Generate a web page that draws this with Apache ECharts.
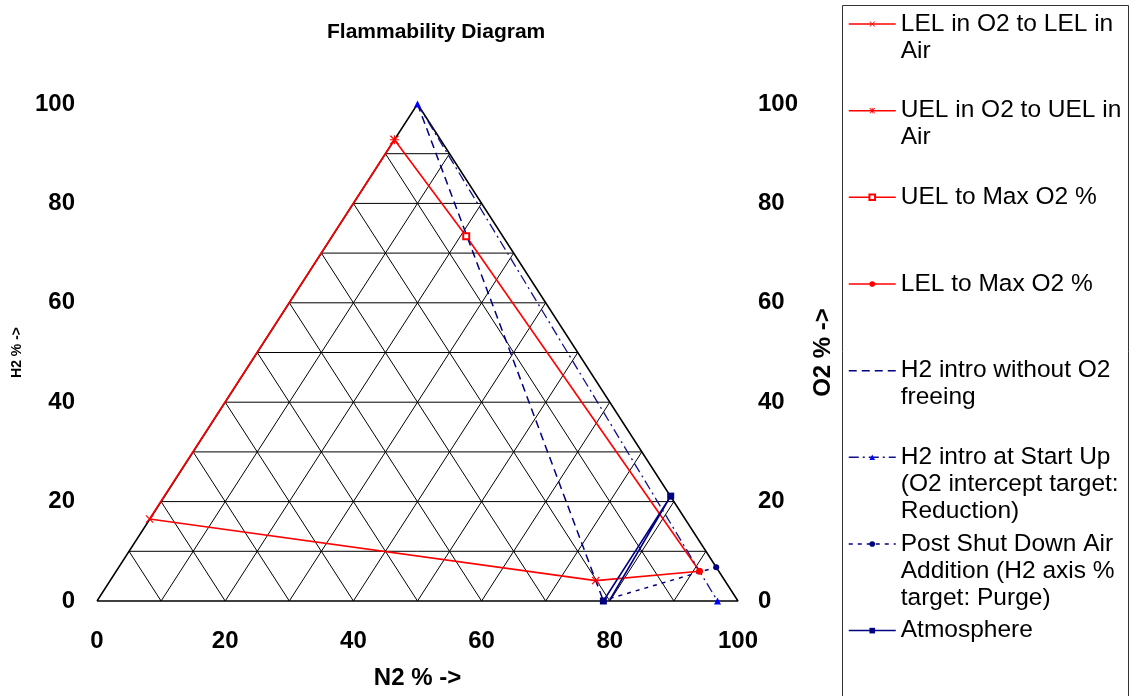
<!DOCTYPE html>
<html>
<head>
<meta charset="utf-8">
<script src="https://cdn.jsdelivr.net/npm/echarts@6/dist/echarts.min.js"></script>
<style>
html,body{margin:0;padding:0;background:#fff;}
#chart{width:1134px;height:696px;}
</style>
</head>
<body>
<div id="chart"></div>
<script>
// ---- data (Cartesian positions on the ternary triangle: x = N2 axis, y = H2 axis) ----
const axisTicks = [0, 20, 40, 60, 80, 100];
const triangleGridSteps = [10, 20, 30, 40, 50, 60, 70, 80, 90];

const lelO2ToLelAir      = [[8.2, 16.5], [77.8, 4.1]];
const uelO2ToUelAir      = [[8.2, 16.5], [46.4, 92.8], [57.6, 73.4]];
const uelToMaxO2         = [[57.6, 73.4], [94.0, 6.0]];
const lelToMaxO2         = [[77.8, 4.1], [94.0, 6.0]];
const h2IntroNoO2Freeing = [[50, 100], [79.0, 0]];
const h2IntroStartUp     = [[50, 100], [96.8, 0]];
const postShutDownAir    = [[80.0, 0.5], [96.6, 6.8]];
const atmosphere         = [[79.0, 0], [89.5, 21.1], [80.0, 0.2]];

const seriesNames = [
  'LEL in O2 to LEL in Air',
  'UEL in O2 to UEL in Air',
  'UEL to Max O2 %',
  'LEL to Max O2 %',
  'H2 intro without O2 freeing',
  'H2 intro at Start Up (O2 intercept target: Reduction)',
  'Post Shut Down Air Addition (H2 axis % target: Purge)',
  'Atmosphere'
];
const legendLabels = [
  'LEL in O2 to LEL in\nAir',
  'UEL in O2 to UEL in\nAir',
  'UEL to Max O2 %',
  'LEL to Max O2 %',
  'H2 intro without O2\nfreeing',
  'H2 intro at Start Up\n(O2 intercept target:\nReduction)',
  'Post Shut Down Air\nAddition (H2 axis %\ntarget: Purge)',
  'Atmosphere'
];

// ---- chart ----
const FONT = "'Liberation Sans', Arial, Helvetica, sans-serif";
const RED = '#ff0000';
const NAVY = '#000080';
const BLUE = '#0000ff';

const X_PATH = 'path://M0,1 L1,0 L5,4 L9,0 L10,1 L6,5 L10,9 L9,10 L5,6 L1,10 L0,9 L4,5 Z';
const STAR_PATH = 'path://M0,1 L1,0 L5,4 L9,0 L10,1 L6,5 L10,9 L9,10 L5,6 L1,10 L0,9 L4,5 Z M4.4,0 L5.6,0 L5.6,10 L4.4,10 Z M0,4.4 L10,4.4 L10,5.6 L0,5.6 Z';

function gridLine(points, width) {
  return {
    type: 'line', data: points, symbol: 'none', silent: true, animation: false, clip: false,
    lineStyle: { color: '#000', width: width }, z: 1
  };
}
const gridSeries = [];
gridSeries.push(gridLine([[0, 0], [100, 0], [50, 100], [0, 0]], 1.5));
triangleGridSteps.forEach(function (k) {
  gridSeries.push(gridLine([[k / 2, k], [100 - k / 2, k]], 1));      // horizontal
  gridSeries.push(gridLine([[k, 0], [50 + k / 2, 100 - k]], 1));     // parallel to left edge
  gridSeries.push(gridLine([[k, 0], [k / 2, k]], 1));                // parallel to right edge
});

function onlyAt(indices, size) {
  return function (v, p) { return indices.indexOf(p.dataIndex) >= 0 ? size : 0; };
}
function dataSeries(name, data, color, lineType, width, symbol, symbolSize, markerColor) {
  return {
    name: name, type: 'line', data: data, clip: false, animation: false, z: 5,
    symbol: symbol, symbolSize: symbolSize, showSymbol: true,
    lineStyle: { color: color, width: width, type: lineType },
    itemStyle: { color: markerColor || color, borderWidth: 0 },
    emphasis: { disabled: true }
  };
}

const series = gridSeries.concat([
  dataSeries(seriesNames[0], lelO2ToLelAir, RED, 'solid', 1.6, X_PATH, 8),
  dataSeries(seriesNames[1], uelO2ToUelAir, RED, 'solid', 1.6, STAR_PATH, onlyAt([1], 9)),
  Object.assign(dataSeries(seriesNames[2], uelToMaxO2, RED, 'solid', 1.6, 'emptyRect', onlyAt([0], 6)),
    { itemStyle: { color: RED, borderColor: RED, borderWidth: 1.5 } }),
  dataSeries(seriesNames[3], lelToMaxO2, RED, 'solid', 1.6, 'circle', onlyAt([1], 7)),
  dataSeries(seriesNames[4], h2IntroNoO2Freeing, NAVY, [8, 5], 1.5, 'circle', 0),
  dataSeries(seriesNames[5], h2IntroStartUp, '#10108a', [10, 4, 2, 4], 1.3, 'triangle', 7, BLUE),
  dataSeries(seriesNames[6], postShutDownAir, NAVY, [4, 5], 1.5, 'circle', onlyAt([1], 6)),
  dataSeries(seriesNames[7], atmosphere, NAVY, 'solid', 1.6, 'rect', onlyAt([0, 1], 7))
]);

const legendData = seriesNames.map(function (n, i) {
  if (i === 4) return { name: n, itemStyle: { opacity: 0 } };
  return { name: n };
});

const chart = echarts.init(document.getElementById('chart'), null, { renderer: 'canvas' });
chart.setOption({
  animation: false,
  backgroundColor: '#fff',
  title: {
    text: 'Flammability Diagram', left: 327, top: 22, padding: 0,
    textStyle: { fontSize: 21, fontWeight: 'bold', fontFamily: FONT, color: '#000' }
  },
  grid: { left: 97, top: 104, width: 641, height: 497, containLabel: false },
  xAxis: {
    type: 'value', min: 0, max: 100, interval: 20,
    name: 'N2 % ->', nameLocation: 'middle', nameGap: 65,
    nameTextStyle: { fontSize: 24, fontWeight: 'bold', fontFamily: FONT, color: '#000' },
    axisLine: { show: false }, axisTick: { show: false }, splitLine: { show: false },
    axisLabel: { fontSize: 24, fontWeight: 'bold', fontFamily: FONT, color: '#000', margin: 28,
      formatter: function (v) { return axisTicks.indexOf(v) >= 0 ? String(v) : ''; } }
  },
  yAxis: [{
    type: 'value', min: 0, max: 100, interval: 20, position: 'left',
    name: 'H2 % ->', nameLocation: 'middle', nameRotate: 90, nameGap: 73,
    nameTextStyle: { fontSize: 14, fontWeight: 'bold', fontFamily: FONT, color: '#000' },
    axisLine: { show: false }, axisTick: { show: false }, splitLine: { show: false },
    axisLabel: { fontSize: 24, fontWeight: 'bold', fontFamily: FONT, color: '#000', margin: 22,
      padding: [4, 0, 0, 0] }
  }, {
    type: 'value', min: 0, max: 100, interval: 20, position: 'right',
    name: 'O2 % ->', nameLocation: 'middle', nameRotate: 90, nameGap: 73,
    nameTextStyle: { fontSize: 24, fontWeight: 'bold', fontFamily: FONT, color: '#000' },
    axisLine: { show: false }, axisTick: { show: false }, splitLine: { show: false },
    axisLabel: { fontSize: 24, fontWeight: 'bold', fontFamily: FONT, color: '#000', margin: 20,
      padding: [4, 0, 0, 0] }
  }],
  legend: {
    orient: 'vertical', left: 848, top: -43.5, height: 3000, padding: 0,
    itemWidth: 47, itemHeight: 7, itemGap: -48.34,
    selectedMode: false,
    data: legendData,
    formatter: function (name) { return legendLabels[seriesNames.indexOf(name)]; },
    itemStyle: { borderWidth: 0 },
    lineStyle: { width: 1.5 },
    textStyle: {
      fontSize: 24.5, fontFamily: FONT, color: '#000', lineHeight: 27,
      height: 81, padding: [54, 0, 0, 0], backgroundColor: 'rgba(0,0,0,0)',
      rich: { a: {} }
    }
  },
  graphic: [{
    type: 'rect', silent: true, z: 0,
    shape: { x: 842.5, y: 5.5, width: 286, height: 720 },
    style: { fill: 'none', stroke: '#333', lineWidth: 1 }
  }],
  series: series
});
</script>
</body>
</html>
